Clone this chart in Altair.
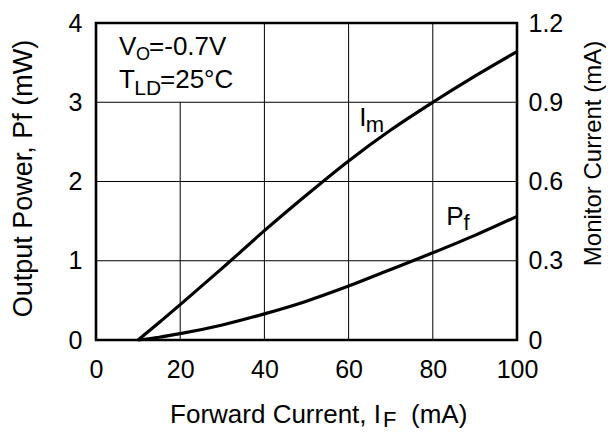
import altair as alt
import pandas as pd

# ---- data ----
forward_current = [10, 15, 20, 30, 40, 50, 60, 70, 80, 90, 100]          # mA
output_power = [0.0, 0.035, 0.08, 0.19, 0.33, 0.49, 0.68, 0.89, 1.10, 1.32, 1.56]   # mW
monitor_current = [0.0, 0.066, 0.134, 0.272, 0.414, 0.549, 0.678, 0.795, 0.900, 0.999, 1.092]  # mA

x_ticks = [0, 20, 40, 60, 80, 100]
left_ticks = [0, 1, 2, 3, 4]
right_ticks = [0, 0.3, 0.6, 0.9, 1.2]

grid_x = [20, 40, 60, 80]
grid_x_top = [3, 4, 4, 4]
grid_y = [1, 2, 3]

ann_text = ["V", "O", "=-0.7V", "T", "LD", "=25°C", "I", "m", "P", "f"]
ann_x = [5.46, 9.5, 12.6, 5.46, 9.1, 15.2, 62.5, 64.1, 83.2, 87.3]
ann_y = [3.596, 3.53, 3.596, 3.176, 3.09, 3.176, 2.70, 2.62, 1.45, 1.39]
ann_size = [26, 18, 26, 26, 21, 26, 26, 22, 26, 22]

FONT = "Liberation Sans"
W, H = 421, 317

df = pd.DataFrame({"x": forward_current, "pf": output_power, "im": monitor_current})
grid = pd.DataFrame({
    "x": grid_x + [0] * len(grid_y),
    "x2": grid_x + [100] * len(grid_y),
    "y": [0] * len(grid_x) + grid_y,
    "y2": grid_x_top + grid_y,
})
ann = pd.DataFrame({"t": ann_text, "x": ann_x, "y": ann_y, "fs": ann_size})

xscale = alt.Scale(domain=[0, 100], nice=False, zero=False)
lscale = alt.Scale(domain=[0, 4], nice=False)
rscale = alt.Scale(domain=[0, 1.2], nice=False)

common_axis = dict(grid=False, ticks=False, domain=False, labelFont=FONT,
                   labelFontSize=25, labelColor="black", labelFlush=False,
                   titleFont=FONT, titleColor="black", titleFontWeight="normal")

xaxis = alt.Axis(values=x_ticks, title=None, labelPadding=17, **common_axis)
laxis = alt.Axis(values=left_ticks, title="Output Power,  Pf (mW)", labelPadding=14,
                 labelExpr="format(datum.value, 'd')",
                 titleFontSize=27, titleAngle=270, titleX=-73, titleY=155,
                 titleBaseline="middle", titleAlign="center", **common_axis)
raxis = alt.Axis(values=right_ticks, title="Monitor Current (mA)", orient="right",
                 labelPadding=11,
                 labelExpr="datum.value == 0 ? '0' : format(datum.value, '.1f')",
                 titleFontSize=24, titleAngle=270, titleX=76, titleY=130,
                 titleBaseline="middle", titleAlign="center", **common_axis)

X = alt.X("x:Q", scale=xscale, axis=xaxis)

grid_layer = alt.Chart(grid).mark_rule(color="black", strokeWidth=1).encode(
    x=X, x2="x2:Q",
    y=alt.Y("y:Q", scale=lscale, axis=laxis), y2="y2:Q")

pf_layer = alt.Chart(df).mark_line(color="black", strokeWidth=3.2, interpolate="monotone").encode(
    x=X, y=alt.Y("pf:Q", scale=lscale, axis=laxis))

ann_layer = alt.Chart(ann).mark_text(font=FONT, color="black", align="left",
                                     baseline="alphabetic").encode(
    x=X, y=alt.Y("y:Q", scale=lscale, axis=laxis), text="t:N",
    size=alt.Size("fs:Q", scale=None))

# x-axis title built from pieces (subscript F)
xt1 = alt.Chart(pd.DataFrame({"t": ["Forward Current, I"]})).mark_text(
    font=FONT, fontSize=26, color="black", align="right", baseline="alphabetic").encode(
    text="t:N", x=alt.value(285), y=alt.value(400))
xt2 = alt.Chart(pd.DataFrame({"t": ["F"]})).mark_text(
    font=FONT, fontSize=22, color="black", align="left", baseline="alphabetic").encode(
    text="t:N", x=alt.value(287), y=alt.value(404))
xt3 = alt.Chart(pd.DataFrame({"t": ["(mA)"]})).mark_text(
    font=FONT, fontSize=26, color="black", align="left", baseline="alphabetic").encode(
    text="t:N", x=alt.value(315), y=alt.value(400))

left = alt.layer(grid_layer, pf_layer, ann_layer, xt1, xt2, xt3)

im_layer = alt.Chart(df).mark_line(color="black", strokeWidth=3.2, interpolate="monotone").encode(
    x=X, y=alt.Y("im:Q", scale=rscale, axis=raxis))

chart = alt.layer(left, im_layer).resolve_scale(y="independent").properties(
    width=W, height=H,
    autosize=alt.AutoSizeParams(type="none"),
    padding={"left": 88, "top": 15, "right": 89, "bottom": 92},
    background="white",
).configure_view(stroke="black", strokeWidth=2.6)

chart.save("out.html", embed_options={"renderer": "svg", "actions": False})
